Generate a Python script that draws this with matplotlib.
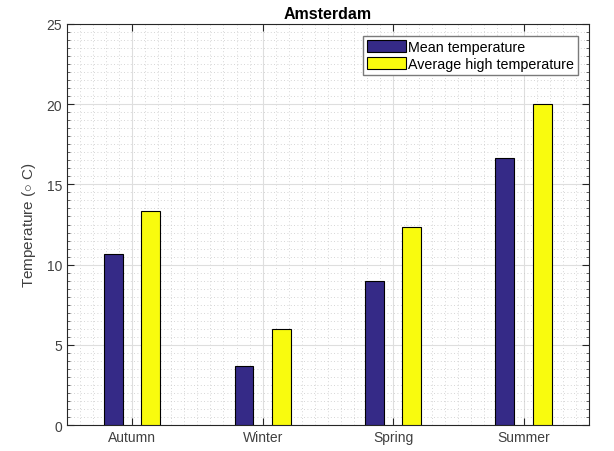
import matplotlib
matplotlib.use("Agg")
import matplotlib.pyplot as plt
from matplotlib.ticker import MultipleLocator
import numpy as np

seasons = ["Autumn", "Winter", "Spring", "Summer"]
mean_temp = [10.67, 3.67, 9.0, 16.67]
high_temp = [13.33, 6.0, 12.33, 20.0]
series_names = ["Mean temperature", "Average high temperature"]

plt.rcParams["font.family"] = ["Liberation Sans", "DejaVu Sans"]
plt.rcParams["mathtext.fontset"] = "custom"
plt.rcParams["mathtext.rm"] = "Liberation Sans"

fig = plt.figure(figsize=(6.14, 4.52), dpi=100)
ax = fig.add_axes([0.109, 0.0575, 0.85, 0.8872])

x = np.arange(1, len(seasons) + 1)
w = 0.145
off = 0.143
ax.bar(x - off, mean_temp, w, color="#352a87", edgecolor="black", linewidth=0.8,
       label=series_names[0], zorder=3)
ax.bar(x + off, high_temp, w, color="#f9fb0e", edgecolor="black", linewidth=0.8,
       label=series_names[1], zorder=3)

ax.set_xlim(0.5, 4.5)
ax.set_ylim(0, 25)
ax.set_xticks(x)
ax.set_xticklabels(seasons)
ax.yaxis.set_major_locator(MultipleLocator(5))
ax.xaxis.set_minor_locator(MultipleLocator(0.1))
ax.yaxis.set_minor_locator(MultipleLocator(0.5))

ax.grid(True, which="major", color="#dedede", linewidth=0.8, zorder=0)
ax.grid(True, which="minor", color="#c8c8c8", linestyle=(0, (1, 3)),
        linewidth=0.6, zorder=0)
ax.set_axisbelow(True)

for s in ax.spines.values():
    s.set_color("#262626")
    s.set_linewidth(0.8)
ax.tick_params(which="both", direction="in", top=True, right=True,
               colors="#262626", labelcolor="#404040", labelsize=10)
ax.tick_params(which="major", length=5)
ax.tick_params(which="minor", length=2.5, width=0.5)
ax.tick_params(axis="x", which="minor", length=0)

ax.set_title("Amsterdam", fontsize=11.5, fontweight="bold", pad=4)
ax.set_ylabel(r"Temperature ($\circ$ C)", fontsize=11, color="#404040", labelpad=6)

leg = ax.legend(loc="upper right", bbox_to_anchor=(0.98, 0.97), fontsize=10.3,
                handlelength=2.7, handleheight=0.9, handletextpad=0.15,
                borderpad=0.3, labelspacing=0.2, fancybox=False,
                framealpha=1, edgecolor="#7a7a7a", borderaxespad=0)
leg.get_frame().set_linewidth(1.0)

fig.savefig("out.png", dpi=100)
